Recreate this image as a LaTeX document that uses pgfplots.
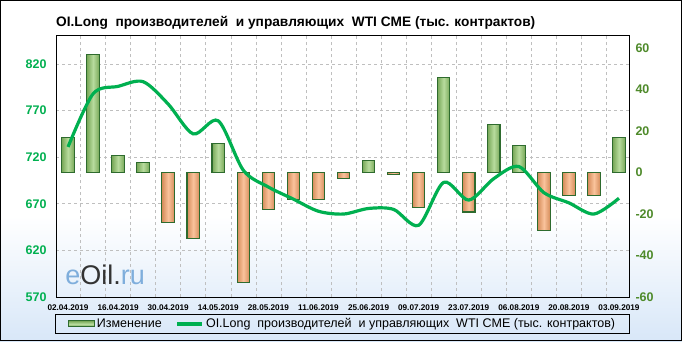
\documentclass[border=0pt]{standalone}
\usepackage{pgfplots}
\pgfplotsset{compat=1.18}
\usepackage{fontspec}
\setmainfont{Liberation Sans}
\definecolor{lineg}{HTML}{00B050}
\definecolor{leftlab}{HTML}{00B050}
\definecolor{rightlab}{HTML}{4E8A2A}
\definecolor{barG}{HTML}{B8DC9E}
\definecolor{barGd}{HTML}{78A858}
\definecolor{barO}{HTML}{FAC39C}
\definecolor{barOd}{HTML}{D58C5A}
\definecolor{barEdge}{HTML}{2E6B2E}
\definecolor{bgblue}{HTML}{D8E7F8}
\definecolor{gridc}{HTML}{BFBFBF}
\definecolor{wm}{HTML}{7FAEDC}
\pgfplotsset{myaxis/.style={scale only axis, width=573pt, height=262pt,
  at={(56pt,44pt)}, anchor=south west, xmin=-0.48, xmax=22.4,
  major tick length=0pt, minor tick length=0pt,
  /pgf/number format/assume math mode=true},
  gbar/.style={ybar, bar width=12.5pt, bar shift=0pt, draw=barEdge, line width=1.1pt,
  left color=barGd, right color=barGd, middle color=barG},
  obar/.style={ybar, bar width=12.5pt, bar shift=0pt, draw=barEdge, line width=1.1pt,
  left color=barOd, right color=barOd, middle color=barO}}
\begin{document}
\begin{tikzpicture}
\fill[white] (0,0) rectangle (682pt,341pt);
\shade[bottom color=bgblue, top color=white] (0,0) rectangle (682pt,125pt);
\node[anchor=base west, inner sep=0pt, font=\bfseries\fontsize{13.7}{13.7}\selectfont] at (56pt,315pt)
  {OI.Long \ производителей \ и управляющих \ WTI CME (тыс. контрактов)};
% base axis: grid, left ticks, x labels
\begin{axis}[myaxis, ymin=570, ymax=851.1, ytick={570,620,...,820},
  xtick={0,2,...,22},
  xticklabels={02.04.2019,16.04.2019,30.04.2019,14.05.2019,28.05.2019,11.06.2019,25.06.2019,09.07.2019,23.07.2019,06.08.2019,20.08.2019,03.09.2019},
  minor xtick={0.5,1.5,...,21.5},
  xminorgrids, ymajorgrids,
  grid style={dashed, gridc, line width=0.6pt},
  minor grid style={dashed, gridc, line width=0.6pt},
  axis line style={black, line width=1pt},
  yticklabel style={font=\bfseries\fontsize{12.5}{12.5}\selectfont, text=leftlab, xshift=-6pt},
  xticklabel style={font=\bfseries\fontsize{8.2}{8.2}\selectfont, yshift=-4pt},
  ]
\addplot[draw=none] coordinates {(0,700)};
\node[anchor=base west, inner sep=0pt, font=\fontsize{27}{27}\selectfont] at (axis description cs:0.016,0.046)
  {\textcolor{wm}{e}\textcolor{black!80}{Oil}\textcolor{black!80}{.}\textcolor{wm}{ru}};
\end{axis}
% bars with right axis
\begin{axis}[myaxis, ymin=-60, ymax=66.3, axis y line*=right, axis x line=none,
  ytick={-60,-40,...,60},
  y axis line style={draw=none},
  yticklabel style={font=\bfseries\fontsize{12.5}{12.5}\selectfont, text=rightlab, xshift=3pt},
  ]
\addplot[gbar] coordinates {(0,17)};
\addplot[gbar] coordinates {(1,57)};
\addplot[gbar] coordinates {(2,8)};
\addplot[gbar] coordinates {(3,5)};
\addplot[obar] coordinates {(4,-24)};
\addplot[obar] coordinates {(5,-32)};
\addplot[gbar] coordinates {(6,14)};
\addplot[obar] coordinates {(7,-53)};
\addplot[obar] coordinates {(8,-18)};
\addplot[obar] coordinates {(9,-13)};
\addplot[obar] coordinates {(10,-13)};
\addplot[obar] coordinates {(11,-3)};
\addplot[gbar] coordinates {(12,6)};
\addplot[obar] coordinates {(13,-1)};
\addplot[obar] coordinates {(14,-17)};
\addplot[gbar] coordinates {(15,46)};
\addplot[obar] coordinates {(16,-19)};
\addplot[gbar] coordinates {(17,23)};
\addplot[gbar] coordinates {(18,13)};
\addplot[obar] coordinates {(19,-28)};
\addplot[obar] coordinates {(20,-11)};
\addplot[obar] coordinates {(21,-11)};
\addplot[gbar] coordinates {(22,17)};
\end{axis}
% line
\begin{axis}[myaxis, ymin=570, ymax=851.1, hide axis,
  legend columns=2,
  legend cell align=left,
  legend style={at={(axis description cs:0.5,-0.065)}, anchor=north, draw=black, line width=1pt,
    fill=none, font=\fontsize{12.5}{14}\selectfont, inner xsep=12pt, inner ysep=2pt,
    /tikz/every even column/.append style={column sep=12pt}},
  ]
\addlegendimage{legend image code/.code={\draw[draw=barEdge, line width=1pt, top color=barGd, bottom color=barGd, middle color=barG] (0pt,-3pt) rectangle (26pt,3pt);}}
\addlegendentry{Изменение}
\addplot[lineg, line width=3.2pt, smooth, tension=0.5,
  legend image code/.code={\draw[lineg, line width=3.2pt] (0pt,0pt) -- (25pt,0pt);}]
  coordinates {(0,731)(1,788)(2,796)(3,801)(4,777)(5,745)(6,759)(7,706)(8,688)(9,675)(10,662)(11,659)(12,665)(13,664)(14,647)(15,693)(16,674)(17,697)(18,710)(19,682)(20,671)(21,659)(22,676)};
\addlegendentry{OI.Long \ производителей \ и управляющих \ WTI CME (тыс. контрактов)}
\end{axis}
\draw[black, line width=1pt] (0.5pt,0.5pt) rectangle (681.5pt,340.5pt);
\pgfresetboundingbox
\useasboundingbox (0,0) rectangle (682pt,341pt);
\end{tikzpicture}
\end{document}
